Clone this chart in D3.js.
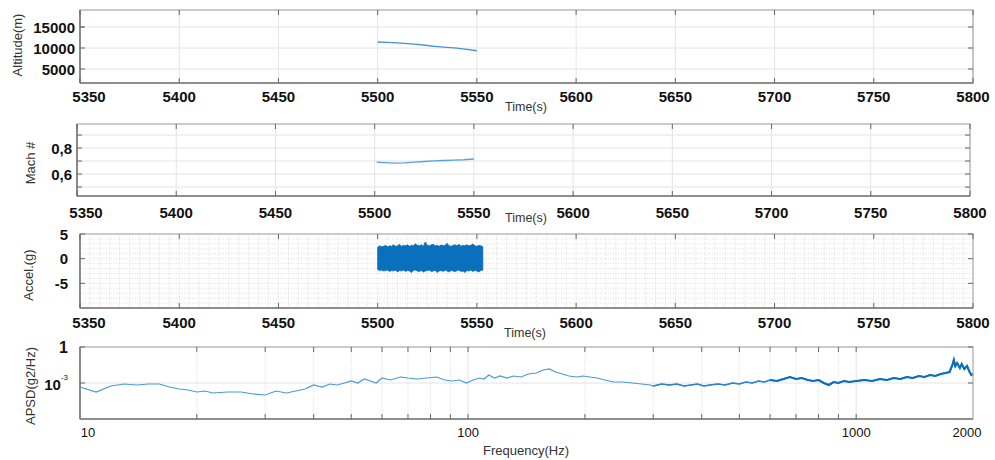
<!DOCTYPE html>
<html><head><meta charset="utf-8">
<script src="https://cdn.jsdelivr.net/npm/d3@7"></script>
<style>
body{margin:0;background:#fff;}
svg{display:block;font-family:"Liberation Sans",Arial,sans-serif;}
</style></head><body>
<svg id="chart" width="995" height="460"></svg>
<script>
// ---- data ----
const timeDomain = [5350, 5800];
const timeTicks = [5350, 5400, 5450, 5500, 5550, 5600, 5650, 5700, 5750, 5800];

const altTicks = [5000, 10000, 15000];
const altTime = [5500, 5505, 5510, 5515, 5520, 5525, 5530, 5535, 5540, 5545, 5550];
const altitude = [11430, 11350, 11200, 11050, 10850, 10600, 10350, 10150, 9950, 9650, 9350];
const altStubTime = [5350, 5352];
const altStub = [15000, 15000];

const machTicks = [0.6, 0.8];
const machGrid = [0.5, 0.6, 0.7, 0.8, 0.9];
const machTime = [5501, 5505, 5510, 5515, 5520, 5525, 5530, 5535, 5540, 5545, 5550];
const mach = [0.692, 0.688, 0.684, 0.686, 0.692, 0.697, 0.701, 0.704, 0.707, 0.710, 0.716];

const accelTicks = [5, 0, -5];
const accelTime = d3.range(5500, 5554, 1);
const accelUpper = [2.3,2.6,2.4,2.5,2.7,2.4,2.6,2.5,2.8,2.5, 2.6,2.9,2.5,2.7,2.6,2.8,2.5,2.7,2.6,3.0,
  2.7,2.6,2.8,2.5,3.4,2.7,2.6,2.8,2.9,2.6, 2.7,2.5,2.8,2.6,2.7,3.1,2.6,2.5,2.7,2.8,
  2.6,2.9,2.5,2.7,2.6,2.8,2.6,2.7,3.0,2.6, 2.5,2.7,2.6,2.4];
const accelLower = [-2.2,-2.4,-2.3,-2.5,-2.4,-2.3,-2.6,-2.4,-2.5,-2.3, -2.7,-2.4,-2.5,-2.3,-2.6,-2.4,-2.5,-2.8,-2.4,-2.3,
  -2.5,-2.6,-2.4,-2.7,-2.5,-2.4,-2.3,-2.6,-2.5,-2.4, -2.8,-2.5,-2.4,-2.6,-2.3,-2.5,-2.7,-2.4,-2.5,-2.6,
  -2.4,-2.3,-2.6,-2.5,-2.8,-2.4,-2.5,-2.3,-2.6,-2.4, -2.5,-2.7,-2.4,-2.3];

const freqTicks = [10, 100, 1000, 2000];
const freqMinor = [20,30,40,50,60,70,80,90,200,300,400,500,600,700,800,900];
const psdTicks = [1, 1e-3];
const freq = [10,11,12,13,14,15,16,17,18,19,20,21,22,24,26,28,30,32,34,36,38,40,42,44,46,48,50,52,54,56,58,60,63,67,70,74,78,83,87,91,95,99,
  103,107,110,113,117,121,126,131,137,143,150,156,162,168,175,182,190,198,206,215,225,237,250,265,280,295,300,315,330,345,360,375,390,405,
  420,440,460,480,500,520,540,560,580,600,625,650,675,700,725,750,775,800,825,850,875,900,930,960,1000,1050,1100,1150,1200,1250,1300,1350,
  1400,1450,1500,1550,1600,1650,1700,1740,1770,1785,1800,1820,1850,1870,1900,1930,1960,1980,2000];
const psd = [4.64e-4,1.78e-4,5.62e-4,8.25e-4,6.81e-4,8.25e-4,8.25e-4,4.64e-4,3.16e-4,2.61e-4,1.78e-4,2.15e-4,1.47e-4,1.78e-4,1.78e-4,1.21e-4,1.0e-4,
  2.15e-4,1.47e-4,2.15e-4,3.16e-4,6.81e-4,4.64e-4,8.25e-4,6.81e-4,1.0e-3,1.47e-3,1.0e-3,2.15e-3,1.47e-3,1.0e-3,2.61e-3,1.78e-3,3.16e-3,2.61e-3,
  2.15e-3,2.61e-3,3.16e-3,1.78e-3,1.47e-3,1.78e-3,1.0e-3,
  1.78e-3,2.61e-3,2.15e-3,4.64e-3,2.61e-3,3.83e-3,2.61e-3,3.83e-3,3.16e-3,5.62e-3,6.81e-3,1.21e-2,1.47e-2,8.25e-3,5.62e-3,3.83e-3,3.16e-3,
  3.83e-3,3.16e-3,2.61e-3,1.78e-3,1.21e-3,1.21e-3,1.0e-3,8.25e-4,6.81e-4,5.62e-4,8.25e-4,6.81e-4,8.25e-4,5.62e-4,6.81e-4,8.25e-4,5.62e-4,
  6.81e-4,8.25e-4,6.81e-4,1.0e-3,8.25e-4,1.21e-3,1.0e-3,1.47e-3,1.21e-3,1.78e-3,1.47e-3,2.15e-3,3.16e-3,2.15e-3,2.61e-3,1.78e-3,1.47e-3,
  1.78e-3,1.0e-3,6.81e-4,1.21e-3,1.0e-3,1.47e-3,1.21e-3,1.47e-3,1.78e-3,1.47e-3,2.15e-3,1.78e-3,2.61e-3,2.15e-3,3.16e-3,
  2.61e-3,3.83e-3,3.16e-3,4.64e-3,3.83e-3,5.62e-3,6.81e-3,8.25e-3,3.16e-2,8.25e-2,2.61e-2,4.64e-2,1.78e-2,3.83e-2,1.47e-2,2.61e-2,8.25e-3,
  4.64e-3,5.62e-3];

// ---- drawing ----
const svg = d3.select("#chart");
const AXIS = "#7a7a7a", BOX = "#a8a8a8", GRID = "#e4e4e4", MINOR = "#d4d4d4", TXT = "#111", TITLE = "#333";

function frame(g, x, y, L, R, T, B, o) {
  g.selectAll(null).data(o.yGrid).join("line")
    .attr("x1", L).attr("x2", R).attr("y1", d => y(d)).attr("y2", d => y(d))
    .attr("stroke", GRID).attr("stroke-width", 1);
  g.selectAll(null).data(o.xGrid).join("line")
    .attr("y1", T).attr("y2", B).attr("x1", d => x(d)).attr("x2", d => x(d))
    .attr("stroke", GRID).attr("stroke-width", 1);
  if (o.xMinor) g.selectAll(null).data(o.xMinor).join("line")
    .attr("y1", T).attr("y2", B).attr("x1", d => x(d)).attr("x2", d => x(d))
    .attr("stroke", MINOR).attr("stroke-width", 0.8).attr("stroke-dasharray", "1,1.6");
  if (o.yMinor) g.selectAll(null).data(o.yMinor).join("line")
    .attr("x1", L).attr("x2", R).attr("y1", d => y(d)).attr("y2", d => y(d))
    .attr("stroke", MINOR).attr("stroke-width", 0.8).attr("stroke-dasharray", "1,1.6");
}

function box(g, x, y, L, R, T, B, o) {
  g.append("rect").attr("x", L).attr("y", T).attr("width", R - L).attr("height", B - T)
    .attr("fill", "none").attr("stroke", BOX).attr("stroke-width", 1.2);
  g.append("line").attr("x1", L).attr("x2", L).attr("y1", T).attr("y2", B).attr("stroke", AXIS).attr("stroke-width", 1.6);
  g.append("line").attr("x1", L).attr("x2", R).attr("y1", B).attr("y2", B).attr("stroke", AXIS).attr("stroke-width", 1.6);
  const tl = 5;
  o.xTickMarks.forEach(v => {
    const px = x(v);
    g.append("line").attr("x1", px).attr("x2", px).attr("y1", B).attr("y2", B - tl).attr("stroke", "#666");
    g.append("line").attr("x1", px).attr("x2", px).attr("y1", T).attr("y2", T + tl).attr("stroke", "#666");
  });
  o.yTickMarks.forEach(v => {
    const py = y(v);
    g.append("line").attr("x1", L).attr("x2", L + tl).attr("y1", py).attr("y2", py).attr("stroke", "#666");
    g.append("line").attr("x1", R).attr("x2", R - tl).attr("y1", py).attr("y2", py).attr("stroke", "#666");
  });
}

function timeLabels(g, x, cy, tx, ty) {
  g.selectAll(null).data(timeTicks).join("text")
    .attr("x", (d, i) => x(d) + (i === 0 ? 9 : 0)).attr("y", cy)
    .attr("text-anchor", "middle").attr("dominant-baseline", "central")
    .attr("font-size", 15).attr("font-weight", "bold").attr("fill", TXT)
    .text(d => d);
  g.append("text").attr("x", tx).attr("y", ty).attr("text-anchor", "middle").attr("dominant-baseline", "central")
    .attr("font-size", 12.5).attr("fill", TITLE).text("Time(s)");
}

function yLabels(g, y, ticks, rx, fmt) {
  g.selectAll(null).data(ticks).join("text")
    .attr("x", rx).attr("y", d => y(d)).attr("text-anchor", "end").attr("dominant-baseline", "central")
    .attr("font-size", 15).attr("font-weight", "bold").attr("fill", TXT).text(fmt);
}

function yTitle(g, cx, cy, text) {
  g.append("text").attr("transform", `translate(${cx},${cy}) rotate(-90)`)
    .attr("text-anchor", "middle").attr("dominant-baseline", "central")
    .attr("font-size", 13).attr("fill", TITLE).text(text);
}

// Panel 1: altitude
{
  const L = 80, R = 973, T = 10, B = 83;
  const x = d3.scaleLinear().domain(timeDomain).range([L, R]);
  const y = d3.scaleLinear().domain([1667, 19048]).range([B, T]);
  const g = svg.append("g");
  frame(g, x, y, L, R, T, B, { yGrid: altTicks, xGrid: timeTicks });
  const line = d3.line().x(d => x(d[0])).y(d => y(d[1]));
  g.append("path").datum(d3.zip(altTime, altitude)).attr("d", line)
    .attr("fill", "none").attr("stroke", "#3f94d6").attr("stroke-width", 1.3);
  g.append("path").datum(d3.zip(altStubTime, altStub)).attr("d", line)
    .attr("fill", "none").attr("stroke", "#3f94d6").attr("stroke-width", 1.3);
  box(g, x, y, L, R, T, B, { xTickMarks: timeTicks, yTickMarks: altTicks });
  yLabels(g, y, altTicks, 75, d => d);
  timeLabels(g, x, 96, 526, 107);
  yTitle(g, 17, 45, "Altitude(m)");
}

// Panel 2: Mach number
{
  const L = 77, R = 970, T = 124, B = 196;
  const x = d3.scaleLinear().domain(timeDomain).range([L, R]);
  const y = d3.scaleLinear().domain([0.431, 0.985]).range([B, T]);
  const g = svg.append("g");
  frame(g, x, y, L, R, T, B, { yGrid: machGrid, xGrid: timeTicks });
  const line = d3.line().x(d => x(d[0])).y(d => y(d[1]));
  g.append("path").datum(d3.zip(machTime, mach)).attr("d", line)
    .attr("fill", "none").attr("stroke", "#55a3de").attr("stroke-width", 1.4);
  box(g, x, y, L, R, T, B, { xTickMarks: timeTicks, yTickMarks: machGrid });
  yLabels(g, y, machTicks, 72, d => d3.format(".1f")(d).replace(".", ","));
  timeLabels(g, x, 212, 526, 218);
  yTitle(g, 30, 163, "Mach #");
}

// Panel 3: acceleration
{
  const L = 80, R = 973, T = 234, B = 308;
  const x = d3.scaleLinear().domain(timeDomain).range([L, R]);
  const y = d3.scaleLinear().domain([-10, 5]).range([B, T]);
  const g = svg.append("g");
  frame(g, x, y, L, R, T, B, {
    yGrid: [], xGrid: [],
    xMinor: d3.range(5355, 5800, 5), yMinor: d3.range(-9, 5, 1)
  });
  const area = d3.area().x(d => x(d[0])).y0(d => y(d[2])).y1(d => y(d[1]));
  g.append("path").datum(d3.zip(accelTime, accelUpper, accelLower)).attr("d", area)
    .attr("fill", "#0a6fbd").attr("stroke", "#0a6fbd").attr("stroke-width", 0.8);
  box(g, x, y, L, R, T, B, { xTickMarks: timeTicks, yTickMarks: accelTicks });
  yLabels(g, y, accelTicks, 68, d => d);
  timeLabels(g, x, 322, 525, 333);
  yTitle(g, 28, 275, "Accel.(g)");
}

// Panel 4: acceleration power spectral density
{
  const L = 80, R = 973, T = 347, B = 419;
  const x = d3.scaleLog().domain([10, 2000]).range([L, R]);
  const y = d3.scaleLog().domain([1e-6, 1]).range([B, T]);
  const g = svg.append("g");
  frame(g, x, y, L, R, T, B, { yGrid: [1e-3], xGrid: [100, 1000], xMinor: freqMinor });
  const line = d3.line().x(d => x(d[0])).y(d => y(d[1]));
  const pts = d3.zip(freq, psd);
  g.append("path").datum(pts).attr("d", line)
    .attr("fill", "none").attr("stroke", "#4a9ad8").attr("stroke-width", 1.2);
  // the dense upper band of the spectrum reads as a heavier trace
  g.append("path").datum(pts.filter(d => d[0] >= 300)).attr("d", line)
    .attr("fill", "none").attr("stroke", "#2a84cc").attr("stroke-width", 1.6);
  g.append("path").datum(pts.filter(d => d[0] >= 600)).attr("d", line)
    .attr("fill", "none").attr("stroke", "#0b6fbf").attr("stroke-width", 2.1);
  box(g, x, y, L, R, T, B, { xTickMarks: [...freqMinor, 100, 1000], yTickMarks: psdTicks });
  g.selectAll(null).data(freqTicks).join("text")
    .attr("x", (d, i) => x(d) + (i === 0 ? 8 : i === 3 ? -6 : 0)).attr("y", 432)
    .attr("text-anchor", "middle").attr("dominant-baseline", "central")
    .attr("font-size", 13).attr("fill", TXT).text(d => d);
  g.append("text").attr("x", 68).attr("y", 347).attr("text-anchor", "end").attr("dominant-baseline", "central")
    .attr("font-size", 16).attr("font-weight", "bold").attr("fill", TXT).text("1");
  const exp = g.append("text").attr("x", 68).attr("y", 384).attr("text-anchor", "end").attr("dominant-baseline", "central")
    .attr("font-size", 15).attr("font-weight", "bold").attr("fill", TXT);
  exp.append("tspan").text("10");
  exp.append("tspan").attr("dy", -7).attr("font-size", 8).attr("font-weight", "normal").text("-3");
  g.append("text").attr("x", 526).attr("y", 450).attr("text-anchor", "middle").attr("dominant-baseline", "central")
    .attr("font-size", 13).attr("fill", TITLE).text("Frequency(Hz)");
  yTitle(g, 30, 386, "APSD(g2/Hz)");
}
</script>
</body></html>
